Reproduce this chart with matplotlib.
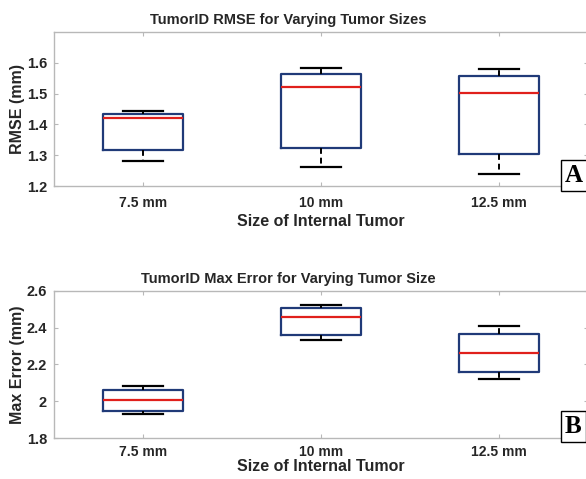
import matplotlib
matplotlib.use('Agg')
import matplotlib.pyplot as plt

# tumor sizes on the x axis
sizes = ['7.5 mm', '10 mm', '12.5 mm']

# panel A: RMSE (mm)
rmse_low = [1.282, 1.263, 1.240]
rmse_q1 = [1.318, 1.322, 1.305]
rmse_med = [1.420, 1.520, 1.503]
rmse_q3 = [1.435, 1.565, 1.558]
rmse_high = [1.445, 1.583, 1.580]

# panel B: max error (mm)
maxerr_low = [1.930, 2.331, 2.123]
maxerr_q1 = [1.946, 2.362, 2.158]
maxerr_med = [2.007, 2.460, 2.261]
maxerr_q3 = [2.060, 2.506, 2.367]
maxerr_high = [2.081, 2.526, 2.407]

plt.rcParams['font.family'] = ['Liberation Sans', 'DejaVu Sans']
plt.rcParams['font.weight'] = 'bold'
txt = '#262626'
spine = '#b8b8b8'


def draw(ax, low, q1, med, q3, high, title, ylabel, ylim, yticks, yticklabels,
         xpad=7, xlabelpad=3):
    stats = []
    for i in range(len(sizes)):
        stats.append({'whislo': low[i], 'q1': q1[i], 'med': med[i],
                      'q3': q3[i], 'whishi': high[i], 'fliers': []})
    ax.bxp(stats, positions=[1, 2, 3], widths=0.45, showfliers=False,
           boxprops=dict(color='#203a78', linewidth=1.6),
           medianprops=dict(color='#e0201c', linewidth=1.6),
           whiskerprops=dict(color='black', linewidth=1.4, linestyle=(0, (3, 2))),
           capprops=dict(color='black', linewidth=1.6),
           capwidths=0.225)
    ax.set_xlim(0.5, 3.5)
    ax.set_ylim(*ylim)
    ax.set_xticks([1, 2, 3])
    ax.set_xticklabels(sizes, fontsize=10, fontweight='bold', color=txt)
    ax.set_yticks(yticks)
    ax.set_yticklabels(yticklabels, fontsize=10.5, fontweight='bold', color=txt)
    ax.tick_params(direction='in', length=3, color=spine, top=True, right=True)
    ax.tick_params(axis='x', pad=xpad)
    ax.tick_params(axis='y', pad=5)
    for s in ax.spines.values():
        s.set_color(spine)
        s.set_linewidth(1.0)
    ax.set_title(title, fontsize=10.5, fontweight='bold', color=txt, pad=6,
                 x=0.438)
    ax.set_xlabel('Size of Internal Tumor', fontsize=11.5, fontweight='bold',
                  color=txt, labelpad=xlabelpad)
    ax.set_ylabel(ylabel, fontsize=11.5, fontweight='bold', color=txt, labelpad=1)


fig = plt.figure(figsize=(5.86, 4.79), dpi=100)
ax1 = fig.add_axes([54 / 586, 1 - 186 / 479, 534 / 586, 154 / 479])
ax2 = fig.add_axes([54 / 586, 1 - 438 / 479, 534 / 586, 147 / 479])

draw(ax1, rmse_low, rmse_q1, rmse_med, rmse_q3, rmse_high,
     'TumorID RMSE for Varying Tumor Sizes', 'RMSE (mm)', (1.2, 1.7),
     [1.2, 1.3, 1.4, 1.5, 1.6], ['1.2', '1.3', '1.4', '1.5', '1.6'])
draw(ax2, maxerr_low, maxerr_q1, maxerr_med, maxerr_q3, maxerr_high,
     'TumorID Max Error for Varying Tumor Size', 'Max Error (mm)', (1.8, 2.6),
     [1.8, 2.0, 2.2, 2.4, 2.6], ['1.8', '2', '2.2', '2.4', '2.6'],
     xpad=5, xlabelpad=0)

# boxed panel letters
for letter, ybase in [('A', 182), ('B', 433)]:
    fig.text(565 / 586, 1 - ybase / 479, letter, fontsize=18, fontweight='bold',
             family='Liberation Serif', color='black', ha='left', va='baseline',
             bbox=dict(boxstyle='square,pad=0.15', facecolor='white',
                       edgecolor='black', linewidth=1.0))

fig.savefig('out.png', dpi=100)
